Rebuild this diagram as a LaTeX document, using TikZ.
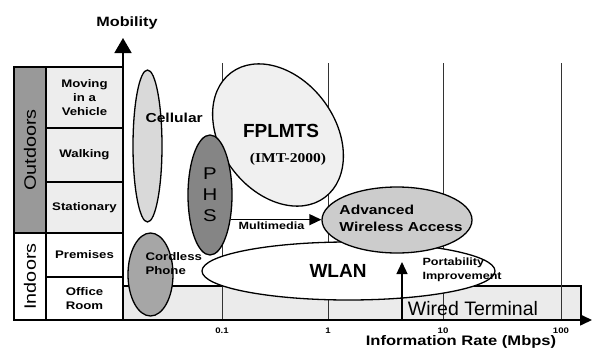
\documentclass[tikz,border=0pt]{standalone}
\usepackage{fontspec}
\setmainfont{Liberation Sans}
\newfontfamily\labfont[FakeStretch=1.2]{Liberation Sans}
\newfontfamily\imtfont[FakeStretch=1.15]{Liberation Serif}
\usepackage{xcolor}
\usepackage{tikz}
\usetikzlibrary{arrows.meta,shapes.geometric}

\definecolor{outgray}{gray}{0.6}
\definecolor{rowgray}{gray}{0.93}
\definecolor{cellgray}{gray}{0.85}
\definecolor{cordgray}{gray}{0.65}
\definecolor{phsgray}{gray}{0.52}
\definecolor{fpgray}{gray}{0.94}
\definecolor{awagray}{gray}{0.8}
\definecolor{wiredgray}{gray}{0.92}

\newcommand{\labsize}[2]{\labfont\bfseries\fontsize{#1}{#2}\selectfont}

\begin{document}
\begin{tikzpicture}[x=1pt,y=-1pt,>={Triangle[length=12pt,width=11pt]},
  cell/.style={draw,line width=1.4pt,inner sep=0pt,minimum width=77pt,align=center,font=\labsize{11}{14}},
  side/.style={draw,line width=1.4pt,inner sep=0pt,rotate=90,minimum height=32pt,font=\labfont\fontsize{16.5}{18}\selectfont},
  ell/.style={ellipse,draw,line width=1.3pt,inner sep=0pt},
  grid/.style={line width=1pt,black!80},
  axis/.style={line width=1.6pt}]
  \useasboundingbox (0,0) rectangle (592,351);

  \node[side,fill=outgray,minimum width=166pt] (out) at (30,150) {Outdoors};
  \node[side,fill=white,minimum width=87pt] (ind) at (30,276.5) {Indoors};
  \node[cell,fill=rowgray,minimum height=61pt] (veh) at (84.5,97.5) {Moving\\in a\\Vehicle};
  \node[cell,fill=rowgray,minimum height=54pt] (walk) at (84.5,155) {Walking};
  \node[cell,fill=rowgray,minimum height=51pt] (stat) at (84.5,207.5) {Stationary};
  \node[cell,fill=white,minimum height=44pt] (prem) at (84.5,255) {Premises};
  \node[cell,fill=white,minimum height=43pt] (off) at (84.5,298.5) {Office\\Room};

  \node[draw,fill=wiredgray,line width=1.2pt,inner sep=0pt,minimum width=458pt,minimum height=34pt] (wired) at (352,303) {};

  \foreach \gx/\gl [count=\i] in {222/0.1,328/1,443/10,561/100} {
    \draw[grid] (\gx,63) -- (\gx,320);
    \node[font=\labsize{8}{9}] (tick\i) at (\gx,331) {\gl};
  }

  \coordinate (orig) at (123,320);
  \coordinate (ytop) at (123,38);
  \coordinate (xend) at (592,320);
  \draw[axis,-{Triangle[length=15pt,width=17pt]}] (orig) -- (ytop);
  \draw[axis,->] (orig) -- (xend);
  \node[font=\labsize{13.5}{15}] (mob) at (127,23) {Mobility};
  \node[font=\labsize{13.8}{15}] (rate) at (461,342) {Information Rate (Mbps)};

  \node[ell,fill=cellgray,minimum width=29pt,minimum height=152pt] (cellular) at (147.5,146) {};
  \node[ell,fill=cordgray,minimum width=45pt,minimum height=83pt] (cordless) at (150.5,274.5) {};
  \node[ell,fill=fpgray,rotate=-53,minimum width=156pt,minimum height=114pt] (fplmts) at (278,135) {};
  \node[ell,fill=phsgray,minimum width=44pt,minimum height=120pt,align=center,font=\labfont\fontsize{17}{21}\selectfont] (phs) at (210,195) {P\\H\\S};
  \node[ell,fill=white,minimum width=293pt,minimum height=58pt] (wlan) at (348.5,271) {};
  \node[ell,fill=awagray,minimum width=150pt,minimum height=66pt] (awa) at (397,220) {};

  \node[font=\labsize{13}{15},anchor=west] (cellbl) at (142,118) {Cellular};
  \node[font=\labsize{11}{14},anchor=west,align=left] (cordlbl) at (142,264) {Cordless\\Phone};
  \node[font=\bfseries\fontsize{19}{21}\selectfont] (fplbl) at (281,131) {FPLMTS};
  \node[font=\imtfont\bfseries\fontsize{13.5}{15}\selectfont] (imt) at (288,159) {(IMT-2000)};
  \node[font=\labsize{13}{17},align=left] (awalbl) at (401,218) {Advanced\\Wireless Access};
  \node[font=\bfseries\fontsize{19}{21}\selectfont] (wlanlbl) at (338,271) {WLAN};
  \node[font=\fontsize{19.5}{21}\selectfont] (wiredlbl) at (473,309) {Wired Terminal};

  \draw[line width=1.3pt,->] (phs.-50) -- node[below,pos=0.45,inner sep=2pt,font=\labsize{10.5}{12}] (mmlbl) {Multimedia} (phs.-50 -| awa.west);
  \coordinate (pi0) at (402,320);
  \coordinate (pi1) at (402,262);
  \draw[line width=1.3pt,->] (pi0) -- (pi1);
  \node[font=\labsize{10.5}{14},anchor=west,align=left] (portlbl) at (419,270) {Portability\\Improvement};
\end{tikzpicture}
\end{document}
